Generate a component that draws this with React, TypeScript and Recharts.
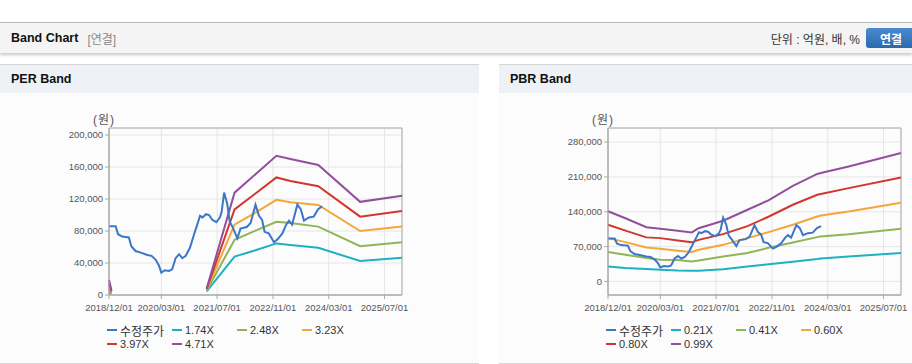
import { LineChart, Line, XAxis, YAxis, CartesianGrid, ReferenceArea } from 'recharts'

// x axis: months since 2018/12
const dateTicks = [0, 15, 31, 47, 63, 79]
const dateLabels = ['2018/12/01', '2020/03/01', '2021/07/01', '2022/11/01', '2024/03/01', '2025/07/01']

// 수정주가 (adjusted price)
const priceMonths = [
  0, 1.9, 2.6, 3.8, 5.7, 6.4, 7.6, 9.1, 11, 12.2,
  13.4, 14.3, 15, 16, 17.2, 18.1, 19.1, 20.1, 21, 22,
  23.2, 24.4, 25.3, 26.1, 26.8, 27.8, 28.7, 29.6, 30.8, 31.8,
  32.3, 33, 33.9, 34.6, 35.3, 36.8, 37.7, 39.5, 40.6, 42,
  43, 43.9, 44.6, 45.8, 47.3, 48.4, 49.7, 50.8, 51.6, 52.5,
  54, 55, 55.9, 57.3, 58.7, 59.9, 61.1,
]
const priceValues = [
  86000, 86000, 76000, 73000, 72000, 61000, 55000, 53000, 50000, 49000,
  44000, 37000, 28000, 31000, 30000, 32000, 46000, 51000, 46000, 49000,
  59000, 76000, 88000, 99000, 97000, 101000, 100000, 94000, 91000, 97000,
  104000, 128000, 114000, 92000, 86000, 71000, 83000, 85000, 90000, 113000,
  99000, 94000, 79000, 77000, 66000, 70000, 77000, 88000, 93000, 88000,
  113000, 107000, 93000, 97000, 98000, 107000, 111000,
]

// PER band
const perMonths = [0, 0.7, 1, 28, 36, 42, 48, 52, 60, 72, 84]
const per174 = [4000, 1500, null, 4500, 48000, 56000, 64500, 62500, 59000, 42500, 46700]
const per248 = [7000, 2500, null, 5500, 69000, 80500, 91500, 90000, 85500, 61000, 66000]
const per323 = [10000, 3500, null, 6500, 88000, 103000, 119000, 116000, 112500, 80000, 85500]
const per397 = [14000, 4500, null, 7500, 107000, 127000, 147000, 142500, 136000, 98000, 105000]
const per471 = [19000, 6000, null, 8000, 128000, 151000, 174000, 170000, 162500, 116500, 124000]
const perNames = ['1.74X', '2.48X', '3.23X', '3.97X', '4.71X']
const perTicks = [0, 40000, 80000, 120000, 160000, 200000]

// PBR band
const pbrMonths = [0, 5, 11, 15, 20, 24, 26, 33, 40, 46, 53, 60, 61, 69, 84]
const pbr021 = [30000, 27000, 24800, 23500, 22000, 21500, 21500, 24500, 30000, 34500, 39500, 45000, 46000, 50000, 57000]
const pbr041 = [59000, 53500, 47000, 43500, 43000, 40000, 42000, 50000, 57000, 67500, 78000, 89000, 90500, 95000, 106000]
const pbr060 = [87000, 79000, 68000, 65500, 61700, 59000, 63500, 73500, 87000, 99000, 114000, 130500, 132500, 140500, 158000]
const pbr080 = [114000, 102000, 88500, 87000, 82000, 78500, 83500, 95000, 111000, 130000, 154000, 174000, 175500, 187500, 209000]
const pbr099 = [141000, 127000, 109000, 106000, 102000, 98500, 107000, 122000, 144000, 163000, 192000, 216000, 218000, 231000, 258000]
const pbrNames = ['0.21X', '0.41X', '0.60X', '0.80X', '0.99X']
const pbrTicks = [0, 70000, 140000, 210000, 280000]

const priceColor = '#3a77c6'
const bandColors = ['#1db1c2', '#8fb556', '#f4a63a', '#d2362f', '#934f9d']

const FONT = '"Liberation Sans", Arial, "Noto Sans CJK KR", sans-serif'

const toSeries = (months: number[], values: (number | null)[]) =>
  months.map((m, i) => ({ m, v: values[i] }))

interface BandProps {
  left: number
  width: number
  bandMonths: number[]
  bands: (number | null)[][]
  names: string[]
  yTicks: number[]
  yDomain: [number, number]
}

function BandChart({ left, width, bandMonths, bands, names, yTicks, yDomain }: BandProps) {
  const price = toSeries(priceMonths, priceValues)
  const legendItems = [{ name: '수정주가', color: priceColor }].concat(
    names.map((n, i) => ({ name: n, color: bandColors[i] }))
  )
  return (
    <div style={{ position: 'absolute', left, top: 93, width, height: 271 }}>
      <div style={{ position: 'absolute', left: 93, top: 17, fontSize: 12, letterSpacing: 1, color: '#555', fontFamily: FONT }}>(원)</div>
      <LineChart width={width} height={271} margin={{ top: 35, right: width - 402, left: 49, bottom: 39 }}>
        <CartesianGrid stroke="#e6e6e6" />
        <XAxis
          dataKey="m"
          type="number"
          domain={[0, 84]}
          ticks={dateTicks}
          interval={0}
          tickFormatter={(v: number) => dateLabels[dateTicks.indexOf(v)]}
          tick={{ fontSize: 9.5, fill: '#555', fontFamily: FONT }}
          tickSize={4}
          tickMargin={5}
          height={30}
          stroke="#aaa"
          allowDuplicatedCategory={false}
        />
        <YAxis
          type="number"
          domain={yDomain}
          ticks={yTicks}
          interval={0}
          allowDataOverflow
          tickFormatter={(v: number) => v.toLocaleString('en-US')}
          tick={{ fontSize: 9.5, fill: '#555', fontFamily: FONT }}
          tickSize={4}
          tickMargin={2}
          width={60}
          stroke="#aaa"
        />
        <ReferenceArea x1={0} x2={84} y1={yDomain[0]} y2={yDomain[1]} fill="none" stroke="#aaa" strokeWidth={1} />
        {bands.map((vals, i) => (
          <Line
            key={names[i]}
            data={toSeries(bandMonths, vals)}
            dataKey="v"
            name={names[i]}
            type="linear"
            stroke={bandColors[i]}
            strokeWidth={2}
            dot={false}
            isAnimationActive={false}
          />
        ))}
        <Line
          data={price}
          dataKey="v"
          name="수정주가"
          type="linear"
          stroke={priceColor}
          strokeWidth={2}
          dot={false}
          isAnimationActive={false}
        />
      </LineChart>
      <div style={{ position: 'absolute', left: 107, top: 230, width: 270, display: 'flex', flexWrap: 'wrap', fontFamily: FONT, fontSize: 11, color: '#333' }}>
        {legendItems.map((it) => (
          <div key={it.name} style={{ width: 65, height: 14, display: 'flex', alignItems: 'center' }}>
            <span style={{ display: 'inline-block', width: 10, height: 2, background: it.color, marginRight: 3 }} />
            <span style={{ fontSize: it.name === '수정주가' ? 12 : 11 }}>{it.name}</span>
          </div>
        ))}
      </div>
    </div>
  )
}

export default function App() {
  return (
    <div style={{ position: 'absolute', left: 0, top: 0, width: 912, height: 364, overflow: 'hidden', background: '#fff', fontFamily: FONT }}>
      <div style={{ position: 'absolute', left: 0, top: 22, width: 912, height: 30, borderTop: '1px solid #b8b8b8', background: '#f4f4f4', boxShadow: '0 2px 3px rgba(0,0,0,0.22)' }}>
        <div style={{ position: 'absolute', left: 11, top: 0, height: 30, display: 'flex', alignItems: 'center' }}>
          <span style={{ fontSize: 12.5, fontWeight: 'bold', color: '#111' }}>Band Chart</span>
          <span style={{ fontSize: 12, color: '#888', marginLeft: 9 }}>[연결]</span>
        </div>
        <div style={{ position: 'absolute', right: 52, top: 0, height: 30, display: 'flex', alignItems: 'center', fontSize: 12, color: '#333' }}>
          단위 : 억원, 배, %
        </div>
        <div style={{ position: 'absolute', left: 866, top: 5, width: 52, height: 20, borderRadius: 3, background: 'linear-gradient(#4a8ad0, #2b69ad)', color: '#fff', fontWeight: 'bold', fontSize: 12, display: 'flex', alignItems: 'center', paddingLeft: 14, boxSizing: 'border-box' }}>
          연결
        </div>
      </div>

      {[0, 499].map((x, i) => (
        <div key={x} style={{ position: 'absolute', left: x, top: 64, width: i === 0 ? 479 : 413, height: 298, borderTop: '1px solid #d6d6d6', borderBottom: '1px solid #d6d6d6', background: '#fcfcfd' }}>
          <div style={{ height: 28, background: '#eef2f7', display: 'flex', alignItems: 'center', paddingLeft: 11, fontSize: 12.5, fontWeight: 'bold', color: '#111' }}>
            {i === 0 ? 'PER Band' : 'PBR Band'}
          </div>
        </div>
      ))}

      <BandChart
        left={0}
        width={479}
        bandMonths={perMonths}
        bands={[per174, per248, per323, per397, per471]}
        names={perNames}
        yTicks={perTicks}
        yDomain={[0, 208800]}
      />
      <BandChart
        left={499}
        width={413}
        bandMonths={pbrMonths}
        bands={[pbr021, pbr041, pbr060, pbr080, pbr099]}
        names={pbrNames}
        yTicks={pbrTicks}
        yDomain={[-27300, 308300]}
      />
    </div>
  )
}
